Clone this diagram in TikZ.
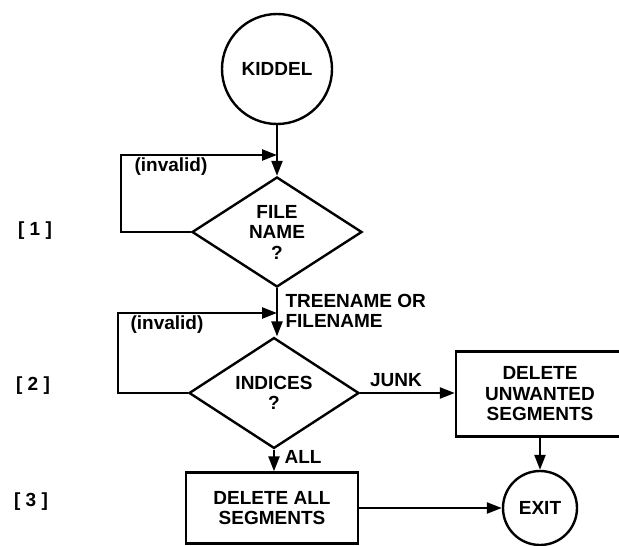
\documentclass[tikz,border=0pt]{standalone}
\usepackage{fontspec}
\setmainfont{Liberation Sans}
\usetikzlibrary{shapes.geometric,arrows.meta}
\begin{document}
\begin{tikzpicture}[x=1pt,y=-1pt,line width=2.4pt,
  every node/.style={font=\fontsize{19}{20.5}\selectfont\bfseries},
  arr/.style={-{Triangle[length=15pt,width=11pt]}},
  term/.style={draw,circle,inner sep=0pt},
  query/.style={draw,diamond,inner sep=0pt,minimum width=170pt,minimum height=100pt,align=center},
  act/.style={draw,rectangle,inner sep=0pt,align=center}]
  \useasboundingbox (0,0) rectangle (619,546);

  \node[term,minimum size=110pt] (kiddel) at (277,69) {KIDDEL};
  \node[query] (fname) at (277,232) {FILE\\NAME\\?};
  \node[query] (indices) at (274,393) {INDICES\\?};
  \node[act,minimum width=172pt,minimum height=71pt] (delall) at (272,508) {DELETE ALL\\SEGMENTS};
  \node[act,minimum width=168pt,minimum height=85pt] (unw) at (540,394) {DELETE\\UNWANTED\\SEGMENTS};
  \node[term,minimum size=74pt] (exit) at (540,508) {EXIT};

  \node (s1) at (35,231) {[ 1 ]};
  \node (s2) at (33,386) {[ 2 ]};
  \node (s3) at (31,502) {[ 3 ]};

  \node (inv1) at (171,167) {(invalid)};
  \node (inv2) at (167,325) {(invalid)};
  \node[anchor=west,align=left] (tree) at (281,311) {TREENAME OR\\FILENAME};
  \node (junk) at (396,380) {JUNK};
  \node (all) at (303,457) {ALL};

  \coordinate (c1) at (121,155);
  \coordinate (j1) at (277,155);
  \coordinate (c2) at (118,313);
  \coordinate (j2) at (277,313);

  \draw[arr] (kiddel) -- (fname);
  \draw[arr] (fname.west) -| (c1) -- (j1);
  \draw[arr] (fname) -- (fname.south |- indices.north);
  \draw[arr] (indices.west) -| (c2) -- (j2);
  \draw[arr] (indices.east) -- (indices.east -| unw.west);
  \draw[arr] (indices.south) -- (indices.south |- delall.north);
  \draw[arr] (unw) -- (exit);
  \draw[arr] (delall) -- (exit);
\end{tikzpicture}
\end{document}
